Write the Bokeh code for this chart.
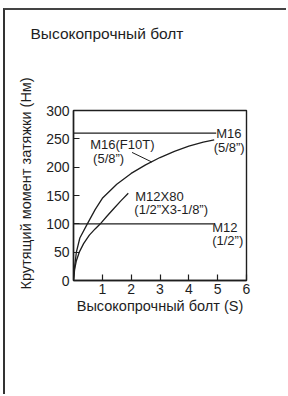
from bokeh.plotting import figure
from bokeh.models import FixedTicker, Title
from bokeh.core.properties import value
from bokeh.embed import file_html
from bokeh.resources import INLINE

# ---- data ----
m16_x = [0, 0.04, 0.1, 0.22, 0.48, 0.75, 1.0, 1.5, 2.0, 2.5, 3.0, 3.5, 4.0, 4.5, 4.88]
m16_y = [0, 25, 50, 75, 100, 125, 145, 170, 189, 204, 217, 228, 237, 244, 248]
m12_x = [0, 0.04, 0.1, 0.2, 0.35, 0.55, 0.75, 0.93, 1.15, 1.4, 1.65, 1.9]
m12_y = [0, 20, 35, 50, 65, 80, 91, 100, 113, 127, 141, 154]
limit_y = [260, 100]
limit_x_end = [4.95, 4.85]
leader_x = [2.03, 2.72]
leader_y = [226, 209]
x_ticks = [1, 2, 3, 4, 5, 6]
y_ticks = [0, 50, 100, 150, 200, 250, 300]
ann_text = ["M16(F10T)", "(5/8\u201d)", "M12X80", "(1/2\u201dX3-1/8\u201d)",
            "M16", "(5/8\u201d)", "M12", "(1/2\u201d)"]
ann_x = [0.58, 0.68, 2.14, 2.11, 4.95, 4.86, 4.81, 4.81]
ann_y = [240, 215, 148, 125, 260, 235.5, 94, 70.5]

INK = "#1e1e1e"
FONT = "Liberation Sans"

p = figure(width=283, height=386, x_range=(0, 6), y_range=(0, 300),
           output_backend="svg", toolbar_location=None,
           min_border_left=68, min_border_right=42,
           min_border_top=100, min_border_bottom=116,
           title=None)
p.styles = {"margin-left": "3px", "margin-top": "8px",
            "border-left": "2px solid #333", "border-top": "2px solid #444"}
p.background_fill_color = "white"
p.border_fill_color = "white"
p.xgrid.visible = False
p.ygrid.visible = False
p.outline_line_color = INK
p.outline_line_width = 1.4

# spacer between plot box and heading, then the heading itself
spacer = Title(text="\u00a0", text_font=FONT, text_font_size="15.5px",
               standoff=50)
p.add_layout(spacer, "above")
heading = Title(text="Высокопрочный болт", text_font=FONT,
                text_font_size="15.5px", text_font_style="normal",
                text_color=INK, align="left", offset=-43, standoff=0)
p.add_layout(heading, "above")

for ax in (p.xaxis[0], p.yaxis[0]):
    ax.axis_line_color = INK
    ax.axis_line_width = 1.4
    ax.major_tick_line_color = INK
    ax.major_tick_line_width = 1.2
    ax.major_tick_in = 6
    ax.major_tick_out = 0
    ax.minor_tick_line_color = None
    ax.major_label_text_font = FONT
    ax.major_label_text_font_size = "14px"
    ax.major_label_text_color = INK
    ax.axis_label_text_font = FONT
    ax.axis_label_text_font_size = "14.5px"
    ax.axis_label_text_font_style = "normal"
    ax.axis_label_text_color = INK

p.xaxis.ticker = FixedTicker(ticks=x_ticks)
p.yaxis.ticker = FixedTicker(ticks=y_ticks)
p.xaxis.major_label_standoff = 3
p.yaxis.major_label_standoff = 4
p.xaxis.axis_label = "Высокопрочный болт (S)"
p.xaxis.axis_label_standoff = 1
p.yaxis.axis_label = "\u00a0" * 6 + "Крутящий момент затяжки (Нм)"
p.yaxis.axis_label_standoff = 9

# curves
p.line(m16_x, m16_y, line_color=INK, line_width=1.3)
p.line(m12_x, m12_y, line_color=INK, line_width=1.3)
p.segment(x0=[0] * len(limit_y), y0=limit_y, x1=limit_x_end, y1=limit_y,
          line_color=INK, line_width=1.2)
p.line(leader_x, leader_y, line_color=INK, line_width=1.0)

p.text(x=ann_x, y=ann_y, text=ann_text, text_font=value(FONT),
       text_font_size="13px", text_color=INK, text_align="left",
       text_baseline="middle")

open("out.html", "w").write(file_html(p, INLINE))
